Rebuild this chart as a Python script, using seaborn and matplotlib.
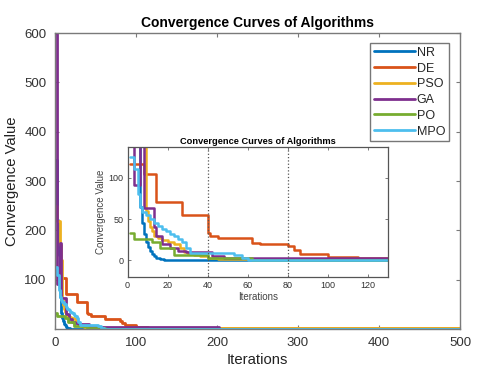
import numpy as np
import pandas as pd
import matplotlib
matplotlib.use("Agg")
import matplotlib.pyplot as plt
import seaborn as sns

# ---- data (step breakpoints) ----
algorithms = ["NR", "DE", "PSO", "GA", "PO", "MPO"]
colors = ["#0072BD", "#D95319", "#EDB120", "#7E2F8E", "#77AC30", "#4DBEEE"]

nr_iter = [1, 2, 3, 4, 5, 6, 7, 8, 9, 10, 11, 12, 13, 14, 15, 16, 18, 20, 500]
nr_val = [343, 280, 220, 180, 150, 64, 45, 32, 22, 16, 11, 8, 5, 3.5, 2.5, 1.5, 1.0, 0.6, 0.6]

de_iter = [1, 8, 14, 27, 40, 41, 45, 62, 66, 80, 83, 86, 100, 115, 500]
de_val = [117, 104, 70, 55, 33, 30, 27, 21, 19.5, 17, 12.5, 7.5, 4.5, 2.5, 2.5]

pso_iter = [1, 3, 6, 8, 9, 10, 11, 12, 13, 15, 17, 20, 23, 26, 28, 30, 33, 36, 40, 45, 50, 500]
pso_val = [250, 218, 170, 140, 60, 48, 40, 35, 30, 27, 25, 22, 20, 15, 10, 8, 6, 5, 3, 2, 1.5, 1.5]

ga_iter = [1, 2, 3, 6, 8, 13, 14, 17, 21, 25, 29, 42, 48, 202, 500]
ga_val = [600, 250, 91, 175, 63, 40, 30, 20, 15, 12, 10, 5, 3.5, 0.8, 0.8]

po_iter = [1, 3, 12, 16, 23, 40, 62, 500]
po_val = [33, 26, 22, 15, 6, 3, 1, 1]

mpo_iter = [1, 3, 5, 6, 7, 9, 11, 13, 15, 17, 19, 21, 23, 25, 27, 29, 31, 53, 57, 60, 500]
mpo_val = [125, 110, 80, 64, 58, 55, 50, 45, 41, 38, 35, 32, 29, 26, 22, 15, 9, 6, 3, 1, 1]

series_iters = [nr_iter, de_iter, pso_iter, ga_iter, po_iter, mpo_iter]
series_vals = [nr_val, de_val, pso_val, ga_val, po_val, mpo_val]

main_xticks = [0, 100, 200, 300, 400, 500]
main_yticks = [100, 200, 300, 400, 500, 600]
inset_xticks = [0, 20, 40, 60, 80, 100, 120]
inset_yticks = [0, 50, 100]
inset_marks = [40, 80]

title = "Convergence Curves of Algorithms"

# ---- build table ----
rows = []
for name, its, vals in zip(algorithms, series_iters, series_vals):
    for i, v in zip(its, vals):
        rows.append((name, i, v))
df = pd.DataFrame(rows, columns=["Algorithm", "Iteration", "Value"])
palette = dict(zip(algorithms, colors))

sns.set_style("ticks")
plt.rcParams["font.family"] = ["Liberation Sans", "DejaVu Sans"]
plt.rcParams["xtick.direction"] = "in"
plt.rcParams["ytick.direction"] = "in"

W, H = 480, 375
fig = plt.figure(figsize=(W / 100, H / 100), dpi=100)

spine_col = "#7a7a7a"
text_col = "#333333"

# ---- main axes ----
ax = fig.add_axes([55 / W, 1 - 329 / H, 405 / W, 296 / H])
sns.lineplot(data=df, x="Iteration", y="Value", hue="Algorithm", hue_order=algorithms,
             palette=palette, drawstyle="steps-post", estimator=None, sort=False,
             linewidth=2, ax=ax)
ax.set_xlim(0, 500)
ax.set_ylim(0, 600)
ax.set_xticks(main_xticks)
ax.set_yticks(main_yticks)
ax.tick_params(axis="both", which="both", direction="in", length=3, width=0.8,
               colors=spine_col, labelcolor=text_col, labelsize=9.5, top=True, right=True,
               pad=6)
for s in ax.spines.values():
    s.set_color(spine_col)
    s.set_linewidth(1.0)
ax.set_xlabel("Iterations", fontsize=10.7, color="#222222", labelpad=3)
ax.set_ylabel("Convergence Value", fontsize=10.7, color="#222222", labelpad=4)
ax.set_title(title, fontsize=10, fontweight="bold", color="black", pad=4)

leg = ax.legend(loc="upper right", bbox_to_anchor=(0.973, 0.966), fontsize=9,
                frameon=True, fancybox=False, borderaxespad=0, handlelength=3.3,
                handletextpad=0.15, labelspacing=0.3, borderpad=0.3)
leg.get_frame().set_edgecolor("#555555")
leg.get_frame().set_linewidth(1.0)
for line in leg.get_lines():
    line.set_linewidth(2)

# ---- inset axes ----
ia = fig.add_axes([127.5 / W, 1 - 277 / H, 260.5 / W, 130 / H])
sns.lineplot(data=df, x="Iteration", y="Value", hue="Algorithm", hue_order=algorithms,
             palette=palette, drawstyle="steps-post", estimator=None, sort=False,
             linewidth=1.8, ax=ia, legend=False)
for xm in inset_marks:
    ia.axvline(xm, color="#555555", linestyle=":", linewidth=0.9)
ia.set_xlim(0, 130)
ia.set_ylim(-20, 137)
ia.set_xticks(inset_xticks)
ia.set_yticks(inset_yticks)
ia.tick_params(axis="both", which="both", direction="in", length=2.5, width=0.7,
               colors=spine_col, labelcolor=text_col, labelsize=6.5, top=True, right=True,
               pad=3)
for s in ia.spines.values():
    s.set_color("#555555")
    s.set_linewidth(0.9)
ia.set_xlabel("Iterations", fontsize=7, color="#444444", labelpad=1)
ia.set_ylabel("Convergence Value", fontsize=7, color="#444444", labelpad=2)
ia.set_title(title, fontsize=6.7, fontweight="bold", color="black", pad=2)

fig.savefig("out.png", dpi=100, facecolor="white")
